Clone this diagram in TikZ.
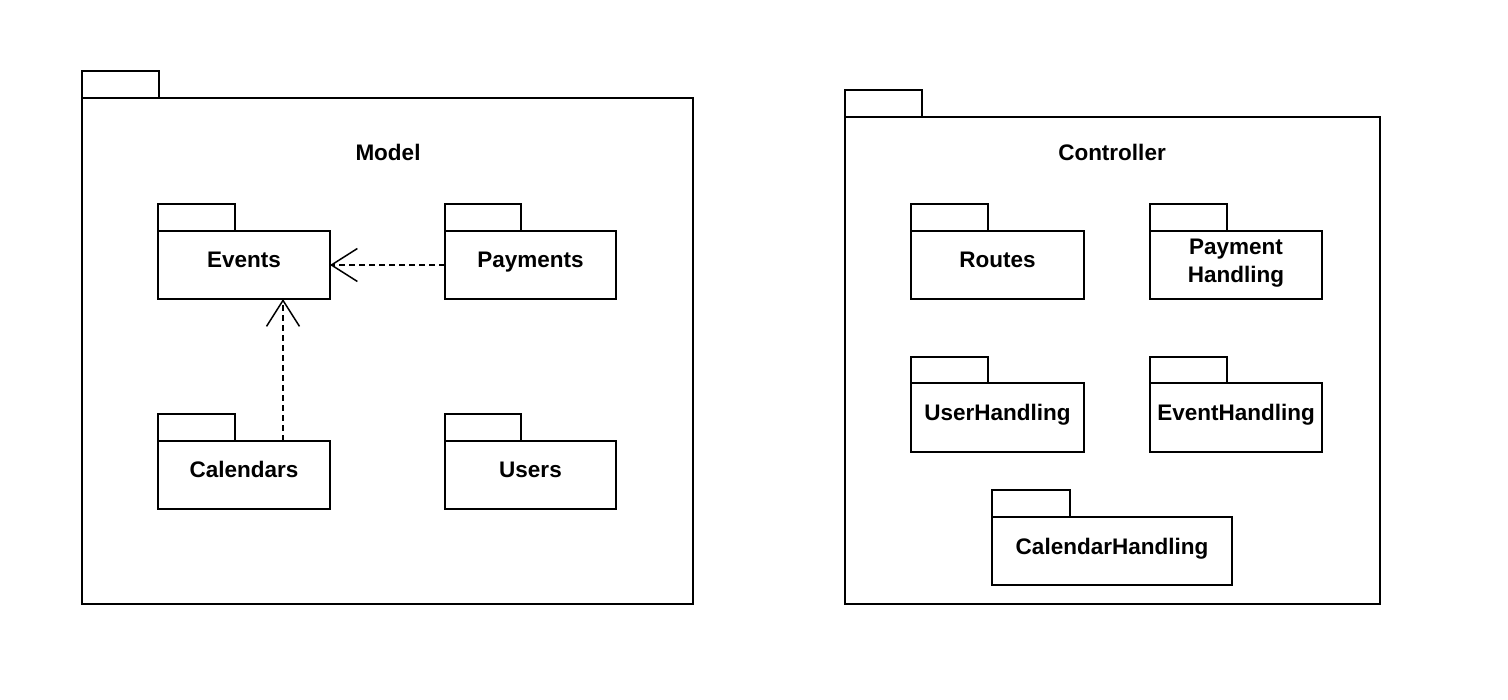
\documentclass[tikz,border=0pt]{standalone}
\usepackage{fontspec}
\setmainfont{Liberation Sans}
\usetikzlibrary{arrows.meta}
\begin{document}
\begin{tikzpicture}[x=1pt,y=-1pt,
  every node/.style={font=\fontsize{22.5}{28}\selectfont\bfseries,outer sep=0pt},
  pkg/.style={draw=black,line width=1.6pt,rectangle,inner sep=0pt,align=center,
    text height=16pt,text depth=10pt},
  tabbox/.style={draw=black,line width=1.6pt,rectangle,inner sep=0pt,
    minimum width=77pt,minimum height=27pt,anchor=south west},
  dep/.style={line width=1.5pt,dash pattern=on 6pt off 4pt,
    -{Straight Barb[length=26pt,width=33pt,line width=1.5pt]}}
]
\useasboundingbox (0,0) rectangle (1508,700);

% Model package
\node[pkg,minimum width=611pt,minimum height=506pt,anchor=north west] (model) at (82,98) {};
\node[tabbox] (modelTab) at (model.north west) {};
\node (modelLbl) at (388,152) {Model};

\node[pkg,minimum width=172pt,minimum height=68pt,anchor=north west] (events) at (158,231) {Events};
\node[tabbox] (eventsTab) at (events.north west) {};
\node[pkg,minimum width=171pt,minimum height=68pt,anchor=north west] (payments) at (445,231) {Payments};
\node[tabbox,minimum width=76pt] (paymentsTab) at (payments.north west) {};
\node[pkg,minimum width=172pt,minimum height=68pt,anchor=north west] (calendars) at (158,441) {Calendars};
\node[tabbox] (calendarsTab) at (calendars.north west) {};
\node[pkg,minimum width=171pt,minimum height=68pt,anchor=north west] (users) at (445,441) {Users};
\node[tabbox,minimum width=76pt] (usersTab) at (users.north west) {};

\draw[dep] (payments.west) -- (events.east);
\draw[dep] ([xshift=39pt]calendars.north) -- ([xshift=39pt]events.south);

% Controller package
\node[pkg,minimum width=535pt,minimum height=487pt,anchor=north west] (controller) at (845,117) {};
\node[tabbox] (controllerTab) at (controller.north west) {};
\node (controllerLbl) at (1112,152) {Controller};

\node[pkg,minimum width=173pt,minimum height=68pt,anchor=north west] (routes) at (911,231) {Routes};
\node[tabbox] (routesTab) at (routes.north west) {};
\node[pkg,minimum width=172pt,minimum height=68pt,anchor=north west,text height=,text depth=] (paymentH) at (1150,231) {};
\node[align=center] (paymentHLbl) at (1236,263) {Payment\\Handling};
\node[tabbox] (paymentHTab) at (paymentH.north west) {};
\node[pkg,minimum width=173pt,minimum height=69pt,anchor=north west] (userH) at (911,383) {UserHandling};
\node[tabbox,minimum height=26pt] (userHTab) at (userH.north west) {};
\node[pkg,minimum width=172pt,minimum height=69pt,anchor=north west] (eventH) at (1150,383) {EventHandling};
\node[tabbox,minimum height=26pt] (eventHTab) at (eventH.north west) {};
\node[pkg,minimum width=240pt,minimum height=68pt,anchor=north west] (calendarH) at (992,517) {CalendarHandling};
\node[tabbox,minimum width=78pt] (calendarHTab) at (calendarH.north west) {};
\end{tikzpicture}
\end{document}
